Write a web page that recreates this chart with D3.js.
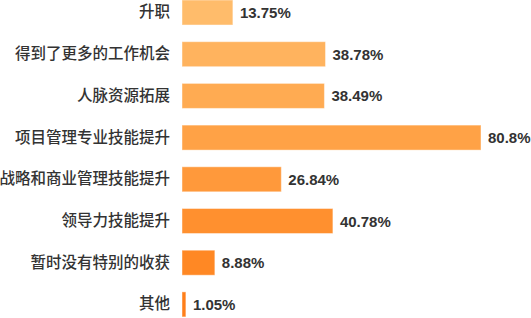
<!DOCTYPE html>
<html><head><meta charset="utf-8">
<script src="https://cdn.jsdelivr.net/npm/d3@7"></script>
<style>
html,body{margin:0;padding:0;background:#fff;}
svg{display:block;}
</style></head>
<body>
<script>
const categories = ["升职","得到了更多的工作机会","人脉资源拓展","项目管理专业技能提升","战略和商业管理技能提升","领导力技能提升","暂时没有特别的收获","其他"];
const values = [13.75, 38.78, 38.49, 80.8, 26.84, 40.78, 8.88, 1.05];
const valueLabels = ["13.75%","38.78%","38.49%","80.8%","26.84%","40.78%","8.88%","1.05%"];
const colors = ["#FFBC6B","#FFB35E","#FFAB52","#FFA246","#FF993B","#FF902F","#FF8824","#FF7F1A"];

const W = 531, H = 318;
const svg = d3.select("body").append("svg").attr("width", W).attr("height", H);

const x = d3.scaleLinear().domain([0, 80.8]).range([182, 481]);
const y = d3.scaleBand().domain(categories).range([-8.35, 325.25]).paddingInner(0.4).paddingOuter(0.2);

const g = svg.append("g");
g.selectAll("rect").data(categories).join("rect")
  .attr("x", x(0))
  .attr("y", d => y(d))
  .attr("width", (d,i) => x(values[i]) - x(0))
  .attr("height", y.bandwidth())
  .attr("fill", (d,i) => colors[i])
  .attr("stroke", "rgba(255,255,255,0.45)")
  .attr("stroke-width", 1);

g.selectAll("text.val").data(categories).join("text")
  .attr("class","val")
  .attr("x", (d,i) => x(values[i]) + 7)
  .attr("y", d => y(d) + y.bandwidth()/2)
  .attr("dy", "0.37em")
  .attr("font-family", "'Liberation Sans', Arial, sans-serif")
  .attr("font-weight", "bold")
  .attr("font-size", 15)
  .attr("fill", "#333")
  .text((d,i) => valueLabels[i]);

const yAxis = d3.axisLeft(y).tickSize(0).tickPadding(12);
const ax = svg.append("g").attr("transform", `translate(${x(0)},0)`).call(yAxis);
ax.select(".domain").remove();
ax.selectAll("text")
  .attr("font-family", "'Noto Sans CJK SC', sans-serif")
  .attr("font-weight", 500)
  .attr("font-size", 15.5)
  .attr("fill", "#333");
</script>
</body></html>
